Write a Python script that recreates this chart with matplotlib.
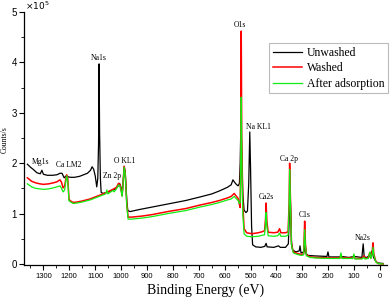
import matplotlib
matplotlib.use("Agg")
import matplotlib.pyplot as plt
from matplotlib.ticker import MultipleLocator

# XPS survey spectra, counts/s in units of 1e5
e_unwashed = [1362, 1350, 1340, 1325, 1312, 1306, 1300, 1285, 1265, 1248, 1236, 1228, 1220, 1212,
              1205, 1195, 1180, 1160, 1145, 1130, 1118, 1112, 1106, 1100, 1094, 1090, 1087, 1085,
              1083, 1080, 1077, 1070, 1055, 1040, 1025, 1012, 1006, 1000, 996, 991, 988, 984, 978,
              974, 965, 930, 880, 820, 750, 695, 650, 620, 590, 575, 568, 563, 555, 548, 543, 540,
              537, 534, 530, 525, 518, 512, 507, 503, 500, 496, 492, 480, 460, 445, 440, 436, 410,
              392, 385, 365, 354, 350, 348, 345, 342, 338, 325, 312, 309, 305, 293, 289, 285, 278,
              250, 205, 201, 197, 160, 150, 120, 100, 70, 65, 61, 50, 40, 30, 25, 16, 8, -12]
v_unwashed = [1.98, 1.92, 1.88, 1.81, 1.79, 1.86, 1.78, 1.76, 1.76, 1.77, 1.80, 1.80, 1.71, 1.75,
              1.73, 1.72, 1.72, 1.74, 1.77, 1.80, 1.86, 1.93, 1.88, 1.75, 1.53, 1.70, 2.40, 3.97,
              2.60, 1.70, 1.42, 1.40, 1.42, 1.45, 1.48, 1.54, 1.60, 1.52, 1.36, 1.70, 1.93, 1.82, 1.25,
              1.06, 1.04, 1.08, 1.13, 1.19, 1.26, 1.33, 1.39, 1.45, 1.52, 1.57, 1.67, 1.63, 1.58, 1.55, 1.60, 2.00,
              2.90, 2.20, 1.40, 1.07, 1.02, 1.05, 1.60, 2.62, 1.90, 0.75, 0.38, 0.34, 0.33, 0.35, 0.41, 0.34, 0.33,
              0.36, 0.33, 0.33, 0.40, 1.00, 1.60, 1.10, 0.45, 0.28, 0.24, 0.26, 0.36, 0.22, 0.24, 0.38, 0.20, 0.17,
              0.16, 0.15, 0.24, 0.14, 0.14, 0.15, 0.13, 0.15, 0.13, 0.40, 0.14, 0.13, 0.18, 0.26, 0.13, 0.05, 0.02, 0.01]

e_washed = [1362, 1345, 1330, 1313, 1300, 1280, 1262, 1248, 1236, 1230, 1224, 1218, 1213, 1210,
            1206, 1201, 1195, 1185, 1170, 1150, 1120, 1100, 1080, 1060, 1040, 1028, 1018, 1010,
            1005, 1000, 996, 991, 988, 984, 978, 973, 960, 920, 880, 820, 750, 695, 650, 620, 590,
            575, 563, 556, 548, 543, 540, 538, 536, 534, 530, 525, 515, 495, 470, 455, 446, 442,
            440, 437, 432, 410, 395, 388, 383, 365, 355, 351, 349, 346, 342, 335, 320, 305, 295,
            291, 288, 284, 270, 250, 200, 155, 151, 147, 105, 101, 97, 70, 62, 58, 45, 40, 36, 30,
            27, 24, 16, 8, -12]
v_washed = [1.71, 1.64, 1.61, 1.59, 1.58, 1.59, 1.61, 1.63, 1.67, 1.62, 1.51, 1.55, 1.70, 1.77,
            1.70, 1.28, 1.25, 1.22, 1.23, 1.25, 1.29, 1.33, 1.37, 1.41, 1.46, 1.49, 1.52, 1.60,
            1.58, 1.48, 1.36, 1.72, 1.94, 1.80, 1.20, 0.93, 0.93, 0.95, 0.98, 1.04, 1.10, 1.17, 1.22, 1.26, 1.31,
            1.34, 1.40, 1.35, 1.30, 1.18, 1.12, 2.00, 4.62, 2.50, 1.20, 0.70, 0.62, 0.60, 0.62, 0.64, 0.66, 0.90,
            1.21, 0.85, 0.63, 0.62, 0.63, 0.70, 0.62, 0.62, 0.64, 1.20, 2.00, 1.30, 0.40, 0.24, 0.21, 0.19, 0.20,
            0.85, 0.40, 0.18, 0.14, 0.13, 0.12, 0.12, 0.18, 0.12, 0.12, 0.17, 0.11, 0.11, 0.16, 0.11, 0.12, 0.22, 0.12, 0.25,
            0.42, 0.20, 0.05, 0.01, 0.0]

e_adsorbed = [1362, 1345, 1330, 1313, 1300, 1280, 1262, 1248, 1236, 1230, 1224, 1218, 1213, 1210,
              1206, 1201, 1195, 1185, 1170, 1150, 1120, 1100, 1080, 1060, 1055, 1051, 1040, 1031,
              1027, 1018, 1010, 1005, 1000, 996, 991, 988, 984, 978, 973, 960, 920, 880, 820, 750,
              695, 650, 620, 590, 575, 563, 556, 548, 543, 540, 538, 536, 534, 530, 525, 515, 495,
              470, 455, 446, 442, 440, 437, 432, 410, 395, 388, 383, 365, 355, 351, 349, 346, 342,
              335, 320, 305, 295, 291, 288, 284, 270, 250, 200, 155, 151, 147, 105, 101, 97, 70, 62,
              58, 45, 39, 35, 30, 27, 24, 16, 8, -12]
v_adsorbed = [1.59, 1.53, 1.50, 1.49, 1.48, 1.49, 1.51, 1.53, 1.55, 1.50, 1.43, 1.47, 1.65, 1.75,
              1.65, 1.25, 1.23, 1.20, 1.21, 1.23, 1.27, 1.31, 1.35, 1.39, 1.47, 1.39, 1.43, 1.46,
              1.43, 1.49, 1.57, 1.55, 1.45, 1.34, 1.70, 1.92, 1.78, 1.16, 0.89, 0.89, 0.91, 0.94, 1.00, 1.06,
              1.13, 1.18, 1.22, 1.27, 1.29, 1.34, 1.30, 1.26, 1.20, 1.22, 2.00, 3.31, 2.20, 1.00, 0.60, 0.55, 0.54,
              0.55, 0.57, 0.58, 0.80, 1.02, 0.75, 0.56, 0.55, 0.56, 0.61, 0.55, 0.55, 0.57, 1.10, 1.87, 1.20, 0.38,
              0.22, 0.19, 0.17, 0.18, 0.68, 0.35, 0.16, 0.13, 0.12, 0.11, 0.11, 0.22, 0.11, 0.11, 0.20, 0.10, 0.10, 0.13,
              0.10, 0.11, 0.24, 0.11, 0.20, 0.33, 0.17, 0.04, 0.01, 0.0]

# peak labels: (text, energy, value)
peak_labels = [("Mg1s", 1313, 2.02), ("Ca LM2", 1201, 1.96), ("Na1s", 1085, 4.09),
               ("Zn 2p", 1035, 1.75), ("O KL1", 985, 2.04), ("O1s", 541, 4.74),
               ("Na KL1", 471, 2.72), ("Ca2s", 440, 1.33), ("Ca 2p", 351, 2.08),
               ("C1s", 290, 0.97), ("Na2s", 66, 0.52)]

serif = "Liberation Serif"
sans = "Liberation Sans"

fig = plt.figure(figsize=(3.9, 3.0), dpi=100)
ax = fig.add_axes([24 / 390, 35 / 300, 363 / 390, 253 / 300])

ax.plot(e_unwashed, v_unwashed, color="black", lw=0.9, label="Unwashed")
ax.plot(e_washed, v_washed, color="#ff0000", lw=1.1, label="Washed")
ax.plot(e_adsorbed, v_adsorbed, color="#11ee11", lw=0.9, label="After adsorption")

for txt, e, v in peak_labels:
    ax.text(e, v, txt, fontsize=5.5, family=serif, ha="center", va="center")

ax.set_xlim(1375, -27)
ax.set_ylim(-0.02, 5.0)
ax.xaxis.set_major_locator(MultipleLocator(100))
ax.xaxis.set_minor_locator(MultipleLocator(50))
ax.yaxis.set_major_locator(MultipleLocator(1))
ax.yaxis.set_minor_locator(MultipleLocator(0.5))
ax.tick_params(which="major", direction="out", length=3.5, width=0.8)
ax.tick_params(which="minor", direction="out", length=2, width=0.6)
ax.tick_params(axis="x", labelsize=5.5, pad=2)
ax.tick_params(axis="y", labelsize=7, pad=1.5)
for lab in ax.get_xticklabels() + ax.get_yticklabels():
    lab.set_family(sans)
for s in ("top", "right"):
    ax.spines[s].set_visible(False)
for s in ("left", "bottom"):
    ax.spines[s].set_linewidth(0.9)

ax.set_xlabel("Binding Energy (eV)", fontsize=10, family=serif, labelpad=3)
fig.text(5 / 390, 1 - 140 / 300, "Counts/s", rotation=90, fontsize=5.5, family=serif,
         ha="center", va="center")
fig.text(25 / 390, 1 - 6 / 300, r"$\times10^5$", fontsize=6.5, ha="left", va="center")

leg = ax.legend(loc="upper right", bbox_to_anchor=(1.003, 0.877), fancybox=False,
                prop={"family": serif, "size": 8.5}, handlelength=2.5, labelspacing=0.3,
                borderpad=0.3, handletextpad=0.4, borderaxespad=0)
leg.get_frame().set_edgecolor("#aaaaaa")
leg.get_frame().set_linewidth(0.8)

fig.savefig("out.png", dpi=100)
